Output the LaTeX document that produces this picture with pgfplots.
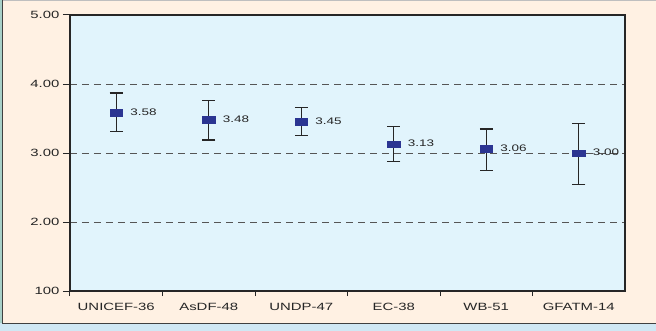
\documentclass[border=0pt]{standalone}
\usepackage{pgfplots}
\pgfplotsset{compat=1.18}
\usepackage{fontspec}
\setmainfont{Liberation Sans}[FakeStretch=1.42]
\definecolor{outerblue}{HTML}{D0E8F4}
\definecolor{teal}{HTML}{A8D0C8}
\definecolor{cream}{HTML}{FFF1E3}
\definecolor{plotbg}{HTML}{E1F4FC}
\definecolor{markblue}{HTML}{2B3592}
\definecolor{gridgray}{HTML}{555555}
\begin{document}
\begin{tikzpicture}
\path[use as bounding box] (-70bp,-40bp) rectangle (586bp,291bp);
\fill[outerblue] (-70bp,-40bp) rectangle (586bp,291bp);
\fill[teal] (-70bp,-32bp) rectangle (-67bp,291bp);
\fill[cream] (-67bp,-32bp) rectangle (586bp,291bp);
\draw[black!75,line width=1bp] (-67bp,291bp) -- (-67bp,-32bp) -- (586bp,-32bp);
\draw[black!25,line width=0.8bp] (-67bp,290.6bp) -- (586bp,290.6bp);
\begin{axis}[
  at={(0,0)}, anchor=south west,
  scale only axis, width=555bp, height=276bp,
  xmin=-0.5, xmax=5.5, ymin=1, ymax=5,
  axis line style={black!85,line width=1.5bp},
  axis background/.style={fill=plotbg},
  xtick={0,1,2,3,4,5},
  xticklabels={UNICEF-36,AsDF-48,UNDP-47,EC-38,WB-51,GFATM-14},
  minor xtick={-0.5,0.5,1.5,2.5,3.5,4.5},
  ytick={1,2,3,4,5},
  yticklabels={100,2.00,3.00,4.00,5.00},
  xtick pos=bottom, ytick pos=left,
  tick align=outside,
  major x tick style={draw=none},
  minor x tick style={black!85,line width=1bp},
  minor tick length=5bp,
  major y tick style={black!85,line width=1bp},
  major tick length=7bp,
  ymajorgrids,
  major grid style={gridgray,line width=0.8bp,dash pattern=on 7bp off 5bp},
  tick label style={font=\fontsize{10.5bp}{12bp}\selectfont, text=black!85},
  xticklabel style={yshift=-2bp},
  clip=false,
]
\addplot[
  only marks,
  mark=square*,
  mark size=3.3bp,
  mark options={xscale=1.95, fill=markblue, draw=markblue},
  error bars/.cd,
    y dir=both, y explicit,
    error bar style={black!85,line width=1.3bp},
    error mark options={rotate=90, mark size=6.5bp, black!85, line width=1.3bp},
] table[x=x, y=y, y error plus=ep, y error minus=em] {
x y ep em
0 3.58 0.29 0.27
1 3.48 0.28 0.29
2 3.45 0.21 0.20
3 3.13 0.25 0.25
4 3.06 0.29 0.31
5 3.00 0.43 0.46
};
\addplot[
  only marks, mark=none,
  nodes near coords={\pgfmathprintnumber[fixed,fixed zerofill,precision=2,assume math mode=true]{\pgfplotspointmeta}},
  point meta=explicit,
  every node near coord/.append style={anchor=west, xshift=13bp, yshift=1bp, inner sep=1bp, text=black!85, font=\fontsize{9.5bp}{11bp}\selectfont},
] table[x=x, y=y, meta=y] {
x y
0 3.58
1 3.48
2 3.45
3 3.13
4 3.06
5 3.00
};
\end{axis}
\end{tikzpicture}
\end{document}
